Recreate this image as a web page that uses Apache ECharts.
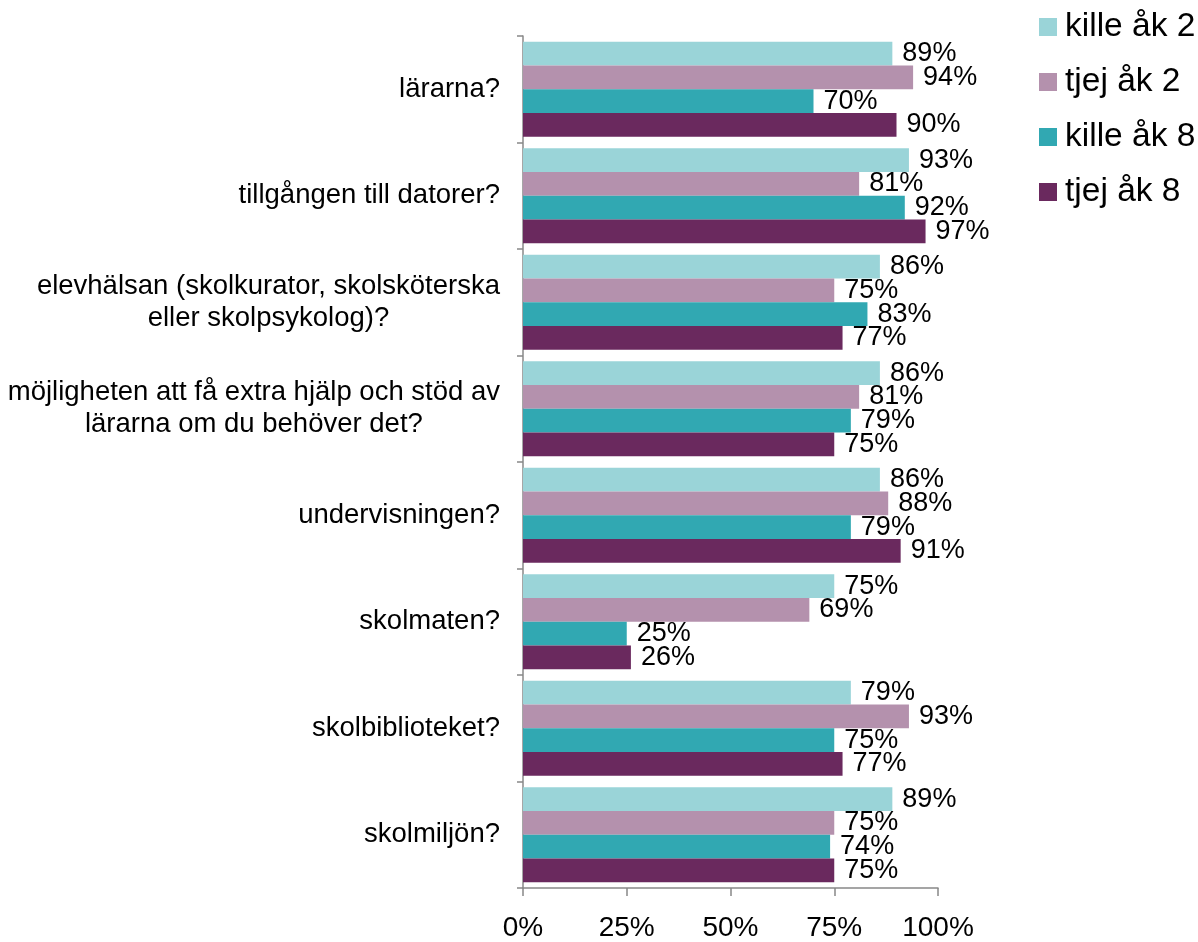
<!DOCTYPE html>
<html><head><meta charset="utf-8">
<script src="https://cdn.jsdelivr.net/npm/echarts@6/dist/echarts.min.js"></script>
<style>html,body{margin:0;padding:0;background:#fff}#c{width:1198px;height:942px}</style>
</head><body><div id="c"></div>
<script>
const categories = [
  "lärarna?",
  "tillgången till datorer?",
  "elevhälsan (skolkurator, skolsköterska\neller skolpsykolog)?",
  "möjligheten att få extra hjälp och stöd av\nlärarna om du behöver det?",
  "undervisningen?",
  "skolmaten?",
  "skolbiblioteket?",
  "skolmiljön?"
];
const seriesNames = ["kille åk 2", "tjej åk 2", "kille åk 8", "tjej åk 8"];
const killeAk2 = [89, 93, 86, 86, 86, 75, 79, 89];
const tjejAk2 = [94, 81, 75, 81, 88, 69, 93, 75];
const killeAk8 = [70, 92, 83, 79, 79, 25, 75, 74];
const tjejAk8 = [90, 97, 77, 75, 91, 26, 77, 75];
const xTicks = [0, 25, 50, 75, 100];
const colors = ["#9AD4D8", "#B491AD", "#31A8B2", "#6A295E"];

const values = [killeAk2, tjejAk2, killeAk8, tjejAk8];
const font = "Liberation Sans, Arial, sans-serif";
const chart = echarts.init(document.getElementById('c'));
chart.setOption({
  animation: false,
  color: colors,
  legend: {
    orient: 'vertical', left: 1039, top: 10, padding: 0,
    itemWidth: 18, itemHeight: 18, itemGap: 21, icon: 'rect',
    textStyle: { fontFamily: font, fontSize: 33.5, lineHeight: 34, color: '#000', padding: [0, 0, 0, 3] },
    data: seriesNames
  },
  grid: { left: 523, right: 260, top: 36, bottom: 54, containLabel: false, outerBoundsMode: 'none' },
  xAxis: {
    type: 'value', min: xTicks[0], max: xTicks[xTicks.length-1], interval: 25,
    axisLine: { show: true, lineStyle: { color: '#888', width: 1.5 } },
    axisTick: { show: true, length: 8, lineStyle: { color: '#888', width: 1.5 } },
    splitLine: { show: false },
    axisLabel: { formatter: v => v + '%', fontFamily: font, fontSize: 28, color: '#000', margin: 26 }
  },
  yAxis: {
    type: 'category', inverse: true, data: categories,
    axisLine: { show: true, lineStyle: { color: '#888', width: 1.5 } },
    axisTick: { show: true, inside: false, length: 6, lineStyle: { color: '#888', width: 1.5 } },
    axisLabel: {
      margin: 23, align: 'right',
      formatter: v => v.split('\n').map(l => '{c|' + l + '}').join('\n'),
      rich: { c: { align: 'center', fontFamily: font, fontSize: 27.5, lineHeight: 32, color: '#000' } }
    }
  },
  series: seriesNames.map((n, i) => ({
    name: n, type: 'bar', data: values[i],
    barGap: '0%', barCategoryGap: '11%',
    itemStyle: { color: colors[i] },
    label: { show: true, position: 'right', distance: 10, formatter: p => p.value + '%',
      fontFamily: font, fontSize: 27, color: '#000' }
  }))
});
</script></body></html>
